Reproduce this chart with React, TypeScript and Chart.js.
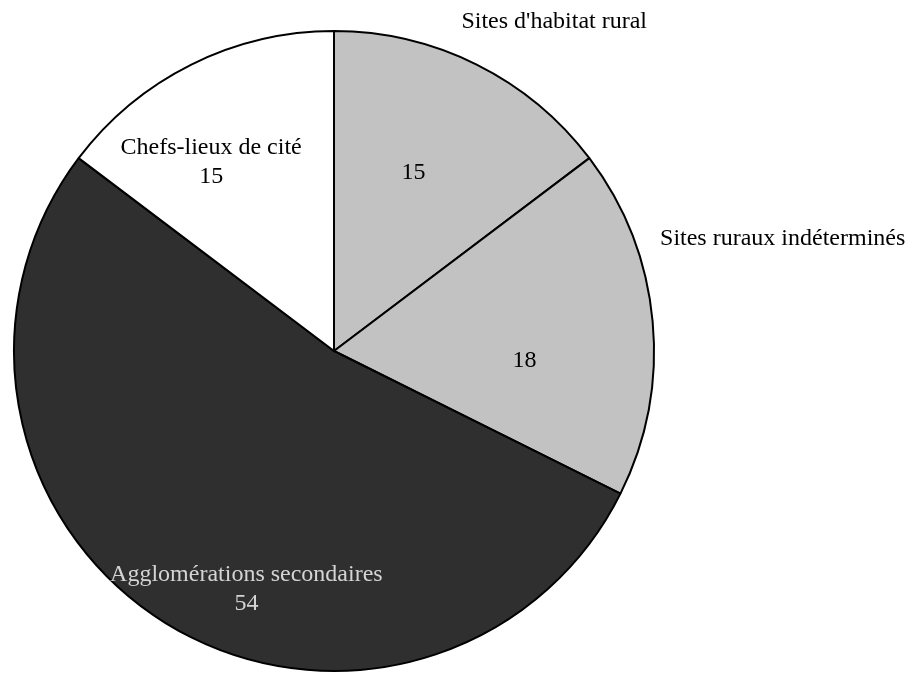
import React, { useEffect, useRef } from "react";
import { Chart, registerables } from "chart.js";

Chart.register(...registerables);

const categories = [
  "Sites d'habitat rural",
  "Sites ruraux indéterminés",
  "Agglomérations secondaires",
  "Chefs-lieux de cité",
];
const values = [15, 18, 54, 15];
const sliceColors = ["#c2c2c2", "#c2c2c2", "#2f2f2f", "#ffffff"];

// label layout: angle (deg clockwise from top), radius as fraction of outer radius
const valueLabelPos = [
  { deg: 24, frac: 0.61, withName: false },
  { deg: 93, frac: 0.596, withName: false },
  { deg: 200.2, frac: 0.793, withName: true },
  { deg: 327, frac: 0.705, withName: true },
];
const outsideNamePos = [
  { deg: 33.8, frac: 1.237 },
  { deg: 76, frac: 1.445 },
  null,
  null,
];
const textColors = ["#000000", "#000000", "#d4d4d4", "#000000"];

const labelPlugin = {
  id: "pieLabels",
  afterDatasetsDraw(chart: any) {
    const ctx = chart.ctx;
    const meta = chart.getDatasetMeta(0);
    ctx.save();
    ctx.font = "24px 'Liberation Serif', 'Times New Roman', serif";
    ctx.textAlign = "center";
    ctx.textBaseline = "middle";
    meta.data.forEach((arc: any, i: number) => {
      const R = arc.outerRadius;
      const place = (deg: number, frac: number) => {
        const a = -Math.PI / 2 + (deg * Math.PI) / 180;
        return { x: arc.x + Math.cos(a) * R * frac, y: arc.y + Math.sin(a) * R * frac };
      };
      const v = valueLabelPos[i];
      const p = place(v.deg, v.frac);
      ctx.fillStyle = textColors[i];
      if (v.withName) {
        ctx.fillText(categories[i], p.x, p.y - 14);
        ctx.fillText(String(values[i]), p.x, p.y + 15);
      } else {
        ctx.fillText(String(values[i]), p.x, p.y);
      }
      const o = outsideNamePos[i];
      if (o) {
        const q = place(o.deg, o.frac);
        ctx.fillStyle = "#000000";
        ctx.fillText(categories[i], q.x, q.y);
      }
    });
    ctx.restore();
  },
};

export default function App() {
  const ref = useRef<HTMLCanvasElement | null>(null);
  useEffect(() => {
    if (!ref.current) return;
    const chart = new Chart(ref.current, {
      type: "pie",
      data: {
        labels: categories,
        datasets: [
          {
            data: values,
            backgroundColor: sliceColors,
            borderColor: "#000000",
            borderWidth: 2,
          },
        ],
      },
      options: {
        responsive: false,
        animation: false,
        layout: { padding: { left: 13, top: 30, right: 265, bottom: 1 } },
        plugins: {
          legend: { display: false },
          tooltip: { enabled: false },
        },
      },
      plugins: [labelPlugin],
    });
    return () => chart.destroy();
  }, []);
  return (
    <div style={{ position: "fixed", left: 0, top: 0, width: 920, height: 673, background: "#fff" }}>
      <canvas ref={ref} width={920} height={673} style={{ display: "block" }} />
    </div>
  );
}
